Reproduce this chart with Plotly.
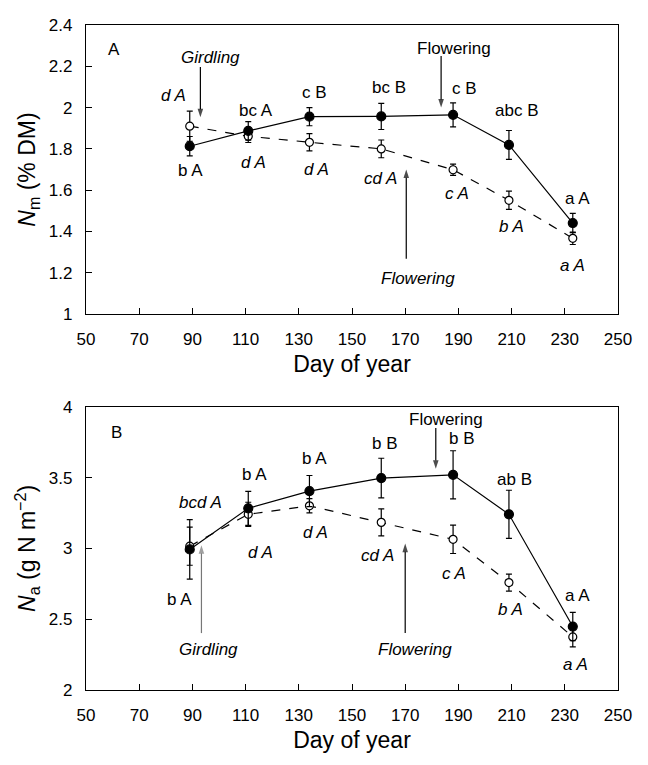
import plotly.graph_objects as go

# ---------------- data ----------------
days = [89, 111, 134, 161, 188, 209, 233]

# Panel A: Nm (% DM)
nm_filled = [1.813, 1.887, 1.956, 1.957, 1.965, 1.819, 1.441]
nm_filled_err = [0.047, 0.045, 0.044, 0.063, 0.058, 0.07, 0.047]
nm_open = [1.91, 1.861, 1.832, 1.80, 1.699, 1.551, 1.367]
nm_open_err = [0.073, 0.03, 0.042, 0.043, 0.027, 0.044, 0.03]
nm_filled_labels = ["b A", "bc A", "c B", "bc B", "c B", "abc B", "a A"]
nm_open_labels = ["d A", "d A", "d A", "cd A", "c A", "b A", "a A"]

# Panel B: Na (g N m-2)
na_filled = [2.993, 3.283, 3.405, 3.497, 3.520, 3.241, 2.448]
na_filled_err = [0.21, 0.12, 0.11, 0.14, 0.17, 0.17, 0.10]
na_open = [3.016, 3.241, 3.301, 3.184, 3.064, 2.759, 2.375]
na_open_err = [0.135, 0.085, 0.05, 0.095, 0.10, 0.06, 0.07]
na_filled_labels = ["b A", "b A", "b A", "b B", "b B", "ab B", "a A"]
na_open_labels = ["bcd A", "d A", "d A", "cd A", "c A", "b A", "a A"]

x_ticks = [50, 70, 90, 110, 130, 150, 170, 190, 210, 230, 250]

girdling_day = 93
flowering_day_filled = 182
flowering_day_open = 170

# ---------------- style ----------------
FONT = "Liberation Sans, Arial, sans-serif"
LBL = 17

# pixel offsets (xshift, yshift) for letter labels
A_filled_off = [(1, -24), (8, 20), (5, 24), (8, 29), (11, 26), (8, 34), (5, 25)]
A_open_off = [(-16, 31), (5, -26), (7, -27), (-1, -30), (4, -24), (3, -26), (0, -27)]
B_filled_off = [(-10, -50), (6, 34), (5, 33), (4, 35), (9, 36), (6, 35), (5, 31)]
B_open_off = [(11, 44), (12, -38), (6, -27), (-4, -33), (1, -34), (2, -27), (3, -28)]

fig = go.Figure()


def add_series(xa, ya, yv, err, filled):
    fig.add_trace(go.Scatter(
        x=days, y=yv, xaxis=xa, yaxis=ya, mode="lines+markers",
        line=dict(color="black", width=1.2, dash="solid" if filled else "dash"),
        marker=dict(symbol="circle", size=9 if filled else 8,
                    color="black" if filled else "white",
                    line=dict(color="black", width=1.2)),
        error_y=dict(type="data", array=err, color="black", thickness=1.2, width=3),
        showlegend=False, cliponaxis=False,
    ))


add_series("x", "y", nm_open, nm_open_err, False)
add_series("x", "y", nm_filled, nm_filled_err, True)
add_series("x2", "y2", na_open, na_open_err, False)
add_series("x2", "y2", na_filled, na_filled_err, True)


def arrow(xa, ya, xd, y_tail, y_tip, color="black"):
    fig.add_trace(go.Scatter(
        x=[xd, xd], y=[y_tail, y_tip], xaxis=xa, yaxis=ya, mode="lines+markers",
        line=dict(color=color, width=1.2),
        marker=dict(symbol=["circle", "arrow"], size=[0, 9], color=color,
                    angleref="previous", line=dict(width=0)),
        hoverinfo="skip", showlegend=False, cliponaxis=False,
    ))


ann = []


def add_labels(xr, yr, yv, labels, offs, italic):
    for d, v, t, (dx, dy) in zip(days, yv, labels, offs):
        ann.append(dict(x=d, y=v, xref=xr, yref=yr, text=f"<i>{t}</i>" if italic else t,
                        showarrow=False, xshift=dx, yshift=dy,
                        font=dict(family=FONT, size=LBL, color="black")))


add_labels("x", "y", nm_filled, nm_filled_labels, A_filled_off, False)
add_labels("x", "y", nm_open, nm_open_labels, A_open_off, True)
add_labels("x2", "y2", na_filled, na_filled_labels, B_filled_off, False)
add_labels("x2", "y2", na_open, na_open_labels, B_open_off, True)


def text(xr, yr, xd, yd, t, size=LBL):
    ann.append(dict(x=xd, y=yd, xref=xr, yref=yr, text=t, showarrow=False,
                    font=dict(family=FONT, size=size, color="black")))


# Panel A events
text("x", "y", 60.6, 2.283, "A")
text("x", "y", girdling_day + 3.7, 2.244, "<i>Girdling</i>")
arrow("x", "y", girdling_day, 2.197, 1.953)
text("x", "y", flowering_day_filled + 6.5, 2.287, "Flowering")
arrow("x", "y", flowering_day_filled + 1.5, 2.25, 2.0)
text("x", "y", flowering_day_open + 4.8, 1.173, "<i>Flowering</i>")
arrow("x", "y", flowering_day_open + 0.4, 1.268, 1.70)

# Panel B events
text("x2", "y2", 61.4, 3.816, "B")
text("x2", "y2", flowering_day_filled + 3.4, 3.908, "Flowering")
arrow("x2", "y2", flowering_day_filled - 0.5, 3.85, 3.563)
text("x2", "y2", girdling_day + 3, 2.287, "<i>Girdling</i>")
arrow("x2", "y2", girdling_day + 0.4, 2.402, 3.023, color="#777777")
text("x2", "y2", flowering_day_open + 3.5, 2.287, "<i>Flowering</i>")
arrow("x2", "y2", flowering_day_open, 2.402, 3.034)

axis_common = dict(showline=True, linecolor="black", linewidth=1.2, mirror=True,
                   ticks="inside", ticklen=6, tickcolor="black", tickwidth=1.2,
                   showgrid=False, zeroline=False, ticklabelstandoff=9,
                   tickfont=dict(family=FONT, size=17, color="black"))

TITLE_FONT = dict(family=FONT, size=23, color="black")

# page body adds an 8px margin around the figure, so the figure is 16px smaller
fig.update_layout(
    width=632, height=749,
    margin=dict(l=78, r=17, t=8, b=60),
    paper_bgcolor="white", plot_bgcolor="white",
    font=dict(family=FONT, color="black"),
    annotations=ann,
    xaxis=dict(domain=[0, 1], anchor="y", range=[50, 250], tickvals=x_ticks,
               title=dict(text="Day of year", font=TITLE_FONT, standoff=8),
               **axis_common),
    yaxis=dict(domain=[0.5653, 1.0], anchor="x", range=[1, 2.4], dtick=0.2,
               title=dict(text="<i>N</i><sub>m</sub> (% DM)", font=TITLE_FONT, standoff=6),
               **axis_common),
    xaxis2=dict(domain=[0, 1], anchor="y2", range=[50, 250], tickvals=x_ticks,
                title=dict(text="Day of year", font=TITLE_FONT, standoff=8),
                **axis_common),
    yaxis2=dict(domain=[0, 0.4258], anchor="x2", range=[2, 4], dtick=0.5,
                title=dict(text="<i>N</i><sub>a</sub> (g N m<sup>\u22122</sup>)", font=TITLE_FONT, standoff=6),
                **axis_common),
)

fig.write_html("out.html")
